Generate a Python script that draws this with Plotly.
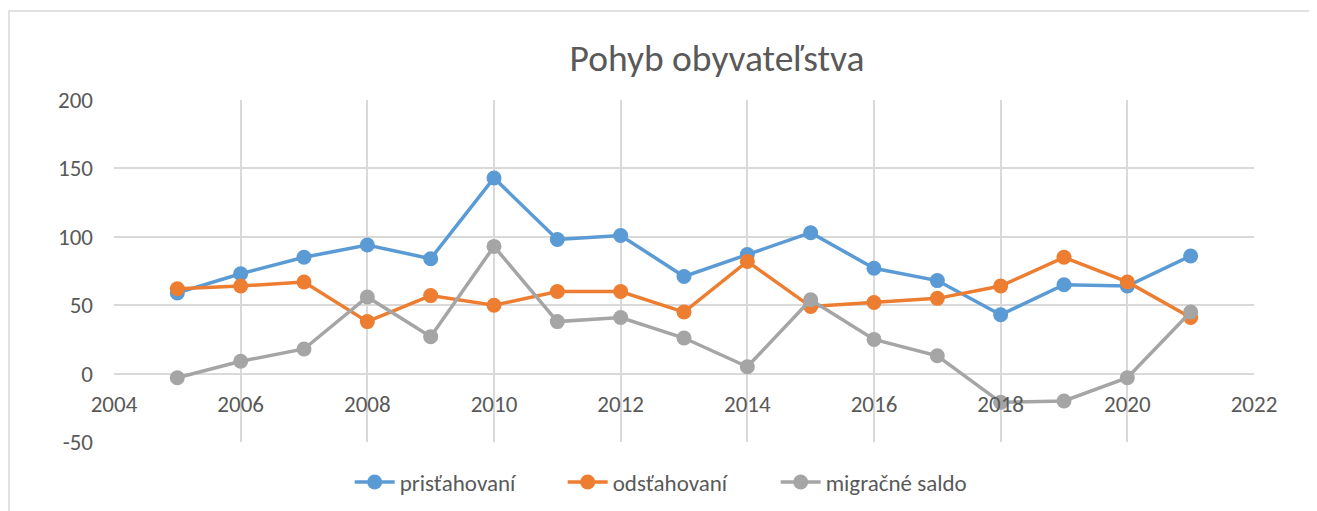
import plotly.graph_objects as go

years = list(range(2005, 2022))
pristahovani = [59, 73, 85, 94, 84, 143, 98, 101, 71, 87, 103, 77, 68, 43, 65, 64, 86]
odstahovani = [62, 64, 67, 38, 57, 50, 60, 60, 45, 82, 49, 52, 55, 64, 85, 67, 41]
saldo = [-3, 9, 18, 56, 27, 93, 38, 41, 26, 5, 54, 25, 13, -21, -20, -3, 45]

y_ticks = [-50, 0, 50, 100, 150, 200]
y_tick_labels = ["-50", "0", "50", "100", "150", "200"]

series = [
    ("prisťahovaní", pristahovani, "#5B9BD5"),
    ("odsťahovaní", odstahovani, "#ED7D31"),
    ("migračné saldo", saldo, "#A5A5A5"),
]

FONT = "Carlito, Calibri, Lato, sans-serif"
TEXT = "#595959"
GRID = "#D9D9D9"

fig = go.Figure()
for name, values, color in series:
    fig.add_trace(
        go.Scatter(
            x=years,
            y=values,
            name=name,
            mode="lines+markers",
            line=dict(color=color, width=3.5),
            marker=dict(color=color, size=15),
            cliponaxis=False,
        )
    )

# page has an 8px body margin, so the figure is 8px smaller and margins shifted
# plot area on page: x 114..1254, y 100..442
fig.update_xaxes(
    range=[2004, 2022],
    dtick=2,
    tick0=2004,
    showgrid=True,
    gridcolor=GRID,
    gridwidth=1.5,
    zeroline=False,
    showline=False,
    anchor="free",
    position=0.157,
    tickfont=dict(size=23, color=TEXT, family=FONT),
)
fig.update_yaxes(
    range=[-50, 200],
    tickvals=y_ticks,
    ticktext=y_tick_labels,
    showgrid=True,
    gridcolor=GRID,
    gridwidth=1.5,
    zeroline=False,
    showline=False,
    ticklabelstandoff=20,
    tickfont=dict(size=23, color=TEXT, family=FONT),
)

fig.add_shape(
    type="rect",
    xref="paper",
    yref="paper",
    x0=(9 - 114) / 1140,
    x1=(1340 - 114) / 1140,
    y0=(442 - 540) / 342,
    y1=(442 - 11) / 342,
    line=dict(color=GRID, width=1.5),
    layer="below",
)

fig.update_layout(
    width=1309,
    height=503,
    margin=dict(l=106, r=63, t=92, b=69, autoexpand=False),
    paper_bgcolor="white",
    plot_bgcolor="white",
    font=dict(family=FONT, color=TEXT),
    title=dict(
        text="Pohyb obyvateľstva",
        x=709 / 1309,
        xanchor="center",
        xref="container",
        y=1 - 50 / 503,
        yanchor="middle",
        yref="container",
        font=dict(size=37.5, color=TEXT, family=FONT),
    ),
    legend=dict(
        orientation="h",
        x=0.487,
        xanchor="center",
        y=-0.117,
        yanchor="middle",
        font=dict(size=23, color=TEXT, family=FONT),
        itemwidth=40,
        entrywidth=158,
    ),
)

fig.write_html("out.html")
